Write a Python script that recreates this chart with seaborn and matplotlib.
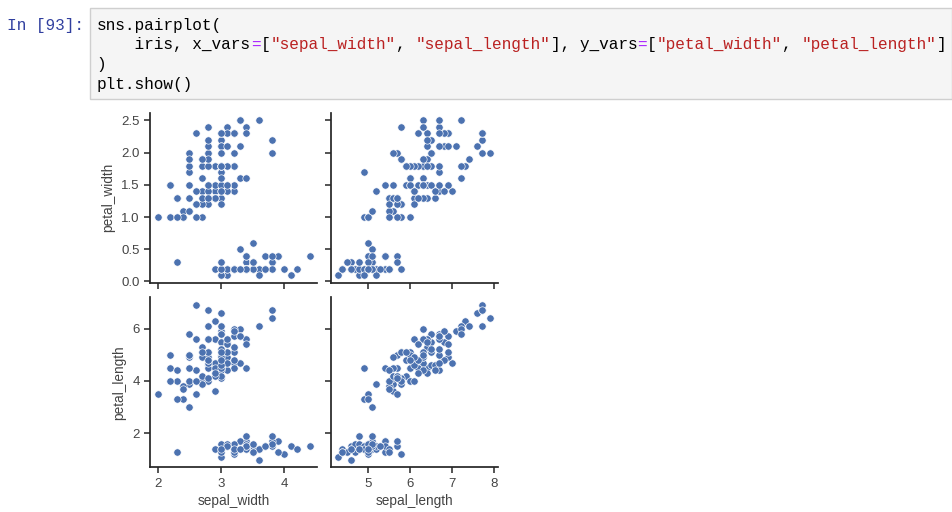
import matplotlib
matplotlib.use("Agg")
import matplotlib.pyplot as plt
from matplotlib.patches import Rectangle
from matplotlib.ticker import MultipleLocator, FormatStrFormatter
import numpy as np
import pandas as pd
import seaborn as sns

# ---------------- data (iris) ----------------
sepal_length = [
    5.1, 4.9, 4.7, 4.6, 5.0, 5.4, 4.6, 5.0, 4.4, 4.9, 5.4, 4.8, 4.8, 4.3, 5.8, 5.7, 5.4, 5.1, 5.7, 5.1,
    5.4, 5.1, 4.6, 5.1, 4.8, 5.0, 5.0, 5.2, 5.2, 4.7, 4.8, 5.4, 5.2, 5.5, 4.9, 5.0, 5.5, 4.9, 4.4, 5.1,
    5.0, 4.5, 4.4, 5.0, 5.1, 4.8, 5.1, 4.6, 5.3, 5.0,
    7.0, 6.4, 6.9, 5.5, 6.5, 5.7, 6.3, 4.9, 6.6, 5.2, 5.0, 5.9, 6.0, 6.1, 5.6, 6.7, 5.6, 5.8, 6.2, 5.6,
    5.9, 6.1, 6.3, 6.1, 6.4, 6.6, 6.8, 6.7, 6.0, 5.7, 5.5, 5.5, 5.8, 6.0, 5.4, 6.0, 6.7, 6.3, 5.6, 5.5,
    5.5, 6.1, 5.8, 5.0, 5.6, 5.7, 5.7, 6.2, 5.1, 5.7,
    6.3, 5.8, 7.1, 6.3, 6.5, 7.6, 4.9, 7.3, 6.7, 7.2, 6.5, 6.4, 6.8, 5.7, 5.8, 6.4, 6.5, 7.7, 7.7, 6.0,
    6.9, 5.6, 7.7, 6.3, 6.7, 7.2, 6.2, 6.1, 6.4, 7.2, 7.4, 7.9, 6.4, 6.3, 6.1, 7.7, 6.3, 6.4, 6.0, 6.9,
    6.7, 6.9, 5.8, 6.8, 6.7, 6.7, 6.3, 6.5, 6.2, 5.9,
]
sepal_width = [
    3.5, 3.0, 3.2, 3.1, 3.6, 3.9, 3.4, 3.4, 2.9, 3.1, 3.7, 3.4, 3.0, 3.0, 4.0, 4.4, 3.9, 3.5, 3.8, 3.8,
    3.4, 3.7, 3.6, 3.3, 3.4, 3.0, 3.4, 3.5, 3.4, 3.2, 3.1, 3.4, 4.1, 4.2, 3.1, 3.2, 3.5, 3.6, 3.0, 3.4,
    3.5, 2.3, 3.2, 3.5, 3.8, 3.0, 3.8, 3.2, 3.7, 3.3,
    3.2, 3.2, 3.1, 2.3, 2.8, 2.8, 3.3, 2.4, 2.9, 2.7, 2.0, 3.0, 2.2, 2.9, 2.9, 3.1, 3.0, 2.7, 2.2, 2.5,
    3.2, 2.8, 2.5, 2.8, 2.9, 3.0, 2.8, 3.0, 2.9, 2.6, 2.4, 2.4, 2.7, 2.7, 3.0, 3.4, 3.1, 2.3, 3.0, 2.5,
    2.6, 3.0, 2.6, 2.3, 2.7, 3.0, 2.9, 2.9, 2.5, 2.8,
    3.3, 2.7, 3.0, 2.9, 3.0, 3.0, 2.5, 2.9, 2.5, 3.6, 3.2, 2.7, 3.0, 2.5, 2.8, 3.2, 3.0, 3.8, 2.6, 2.2,
    3.2, 2.8, 2.8, 2.7, 3.3, 3.2, 2.8, 3.0, 2.8, 3.0, 2.8, 3.8, 2.8, 2.8, 2.6, 3.0, 3.4, 3.1, 3.0, 3.1,
    3.1, 3.1, 2.7, 3.2, 3.3, 3.0, 2.5, 3.0, 3.4, 3.0,
]
petal_length = [
    1.4, 1.4, 1.3, 1.5, 1.4, 1.7, 1.4, 1.5, 1.4, 1.5, 1.5, 1.6, 1.4, 1.1, 1.2, 1.5, 1.3, 1.4, 1.7, 1.5,
    1.7, 1.5, 1.0, 1.7, 1.9, 1.6, 1.6, 1.5, 1.4, 1.6, 1.6, 1.5, 1.5, 1.4, 1.5, 1.2, 1.3, 1.4, 1.3, 1.5,
    1.3, 1.3, 1.3, 1.6, 1.9, 1.4, 1.6, 1.4, 1.5, 1.4,
    4.7, 4.5, 4.9, 4.0, 4.6, 4.5, 4.7, 3.3, 4.6, 3.9, 3.5, 4.2, 4.0, 4.7, 3.6, 4.4, 4.5, 4.1, 4.5, 3.9,
    4.8, 4.0, 4.9, 4.7, 4.3, 4.4, 4.8, 5.0, 4.5, 3.5, 3.8, 3.7, 3.9, 5.1, 4.5, 4.5, 4.7, 4.4, 4.1, 4.0,
    4.4, 4.6, 4.0, 3.3, 4.2, 4.2, 4.2, 4.3, 3.0, 4.1,
    6.0, 5.1, 5.9, 5.6, 5.8, 6.6, 4.5, 6.3, 5.8, 6.1, 5.1, 5.3, 5.5, 5.0, 5.1, 5.3, 5.5, 6.7, 6.9, 5.0,
    5.7, 4.9, 6.7, 4.9, 5.7, 6.0, 4.8, 4.9, 5.6, 5.8, 6.1, 6.4, 5.6, 5.1, 5.6, 6.1, 5.6, 5.5, 4.8, 5.4,
    5.6, 5.1, 5.1, 5.9, 5.7, 5.2, 5.0, 5.2, 5.4, 5.1,
]
petal_width = [
    0.2, 0.2, 0.2, 0.2, 0.2, 0.4, 0.3, 0.2, 0.2, 0.1, 0.2, 0.2, 0.1, 0.1, 0.2, 0.4, 0.4, 0.3, 0.3, 0.3,
    0.2, 0.4, 0.2, 0.5, 0.2, 0.2, 0.4, 0.2, 0.2, 0.2, 0.2, 0.4, 0.1, 0.2, 0.2, 0.2, 0.2, 0.1, 0.2, 0.2,
    0.3, 0.3, 0.2, 0.6, 0.4, 0.3, 0.2, 0.2, 0.2, 0.2,
    1.4, 1.5, 1.5, 1.3, 1.5, 1.3, 1.6, 1.0, 1.3, 1.4, 1.0, 1.5, 1.0, 1.4, 1.3, 1.4, 1.5, 1.0, 1.5, 1.1,
    1.8, 1.3, 1.5, 1.2, 1.3, 1.4, 1.4, 1.7, 1.5, 1.0, 1.1, 1.0, 1.2, 1.6, 1.5, 1.6, 1.5, 1.3, 1.3, 1.3,
    1.2, 1.4, 1.2, 1.0, 1.3, 1.2, 1.3, 1.3, 1.1, 1.3,
    2.5, 1.9, 2.1, 1.8, 2.2, 2.1, 1.7, 1.8, 1.8, 2.5, 2.0, 1.9, 2.1, 2.0, 2.4, 2.3, 1.8, 2.2, 2.3, 1.5,
    2.3, 2.0, 2.0, 1.8, 2.1, 1.8, 1.8, 1.8, 2.1, 1.6, 1.9, 2.0, 2.2, 1.5, 1.4, 2.3, 2.4, 1.8, 1.8, 2.1,
    2.4, 2.3, 1.9, 2.3, 2.5, 2.3, 1.9, 2.0, 2.3, 1.8,
]

x_vars = ["sepal_width", "sepal_length"]
y_vars = ["petal_width", "petal_length"]

iris = pd.DataFrame({
    "sepal_length": sepal_length,
    "sepal_width": sepal_width,
    "petal_length": petal_length,
    "petal_width": petal_width,
})

code_lines = [
    [("sns.pairplot(", "#000000")],
    [("    iris, x_vars", "#000000"), ("=", "#AA22FF"), ("[", "#000000"),
     ('"sepal_width"', "#BA2121"), (", ", "#000000"), ('"sepal_length"', "#BA2121"),
     ("], y_vars", "#000000"), ("=", "#AA22FF"), ("[", "#000000"),
     ('"petal_width"', "#BA2121"), (", ", "#000000"), ('"petal_length"', "#BA2121"),
     ("]", "#000000")],
    [(")", "#000000")],
    [("plt.show()", "#000000")],
]
prompt = "In [93]:"

# ---------------- style ----------------
sns.set_theme(style="ticks")
plt.rcParams["font.family"] = ["Liberation Sans", "DejaVu Sans"]

W, H = 953, 512
fig = plt.figure(figsize=(W / 100, H / 100), dpi=100)
fig.patch.set_facecolor("white")

# ---------------- code cell ----------------
box = Rectangle((90 / W, 1 - 98.5 / H), (952 - 90) / W, (98.5 - 7.5) / H,
                transform=fig.transFigure, facecolor="#f5f5f5", edgecolor="#cfcfcf",
                linewidth=1.0)
fig.patches.append(box)

mono = "Liberation Mono"
cw = 9.66  # pixels per character
fs = cw / (0.6 * 100 / 72)
x0 = 96.5
line_y = [25.5, 45.0, 64.5, 84.0]
for ln, toks in zip(line_y, code_lines):
    col = 0
    for txt, c in toks:
        fig.text((x0 + col * cw) / W, 1 - ln / H, txt, family=mono, fontsize=fs,
                 color=c, ha="left", va="center")
        col += len(txt)

fig.text(84 / W, 1 - 25.5 / H, prompt, family=mono, fontsize=fs, color="#303F9F",
         ha="right", va="center")

# ---------------- pair plot ----------------
def px_axes(l, t, r, b):
    return fig.add_axes([l / W, 1 - b / H, (r - l) / W, (b - t) / H])

cols = [(150.0, 317.2), (330.6, 497.7)]
rows = [(112.7, 282.7), (297.2, 467.3)]
color = sns.color_palette("deep")[0]

axes = [[None, None], [None, None]]
for i, yv in enumerate(y_vars):
    for j, xv in enumerate(x_vars):
        ax = px_axes(cols[j][0], rows[i][0], cols[j][1], rows[i][1])
        axes[i][j] = ax
        sns.scatterplot(data=iris, x=xv, y=yv, ax=ax, color=color, s=28,
                        edgecolor="white", linewidth=0.45, legend=False)
        sns.despine(ax=ax)
        for sp in ax.spines.values():
            sp.set_linewidth(1.25)
            sp.set_color("#262626")
        ax.tick_params(length=4.5, width=1.1, labelsize=9.5, pad=3,
                       colors="#262626", labelcolor="#444444")
        if i == 0:
            ax.set_xlabel("")
            ax.tick_params(labelbottom=False)
        else:
            ax.set_xlabel(xv, fontsize=9.8, color="#444444", labelpad=3)
        if j == 1:
            ax.set_ylabel("")
            ax.tick_params(labelleft=False)
        else:
            ax.set_ylabel(yv, fontsize=9.8, color="#444444", labelpad=4)

# shared limits like pairplot
for j in range(2):
    lo = min(axes[0][j].get_xlim()[0], axes[1][j].get_xlim()[0])
    hi = max(axes[0][j].get_xlim()[1], axes[1][j].get_xlim()[1])
    for i in range(2):
        axes[i][j].set_xlim(lo, hi)
for i in range(2):
    lo = min(axes[i][0].get_ylim()[0], axes[i][1].get_ylim()[0])
    hi = max(axes[i][0].get_ylim()[1], axes[i][1].get_ylim()[1])
    for j in range(2):
        axes[i][j].set_ylim(lo, hi)

for i in range(2):
    axes[i][0].xaxis.set_major_locator(MultipleLocator(1))
    axes[i][1].xaxis.set_major_locator(MultipleLocator(1))
for j in range(2):
    axes[0][j].yaxis.set_major_locator(MultipleLocator(0.5))
    axes[1][j].yaxis.set_major_locator(MultipleLocator(2))
    axes[0][j].yaxis.set_major_formatter(FormatStrFormatter("%.1f"))

fig.savefig("out.png", dpi=100)
